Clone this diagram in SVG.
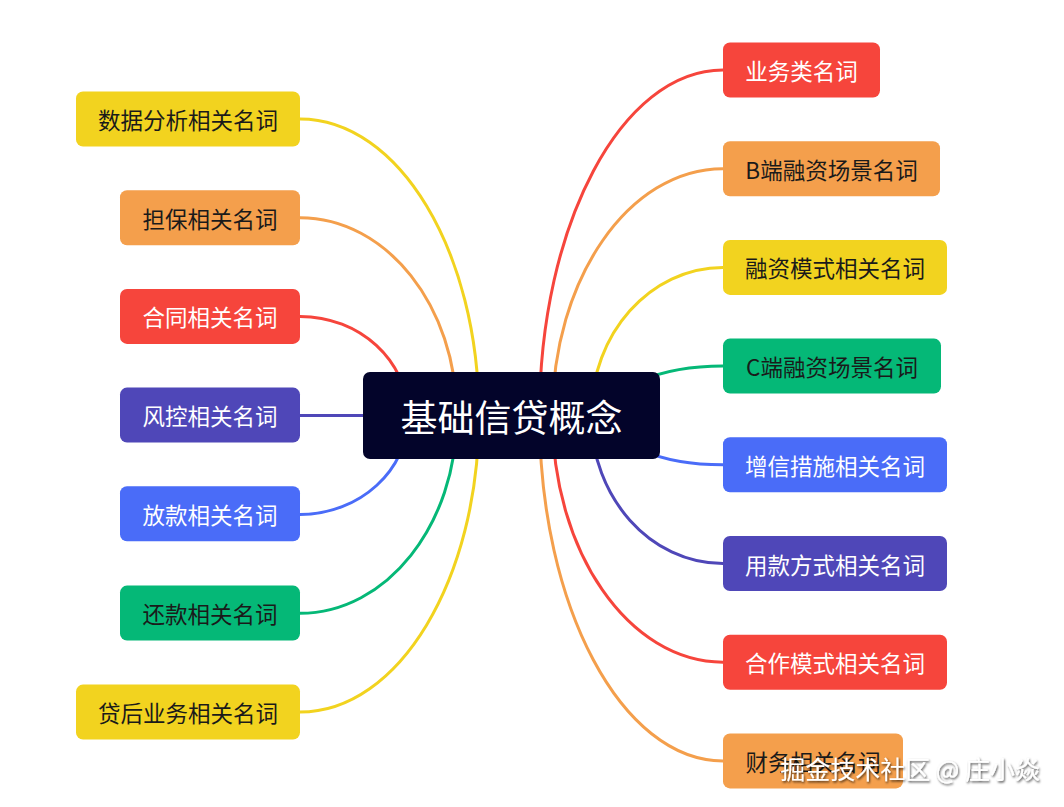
<svg xmlns="http://www.w3.org/2000/svg" width="1064" height="807" viewBox="0 0 1064 807">
<defs>
<style>
.n rect{rx:7;ry:7}
.t{font-family:"Noto Sans CJK SC","Noto Sans",sans-serif;font-size:22.5px;text-anchor:middle;dominant-baseline:central}
.dk{fill:#1a1a1a}
.wt{fill:#ffffff}
.c path{fill:none;stroke-width:3;stroke-linecap:round}
.red{fill:#f6453c}
.org{fill:#f49f4c}
.yel{fill:#f2d31f}
.grn{fill:#05b877}
.blu{fill:#4a6cf8}
.pur{fill:#4f47b8}
</style>
<filter id="sh" x="-10%" y="-30%" width="120%" height="160%">
<feDropShadow dx="1" dy="1.5" stdDeviation="1" flood-color="#000" flood-opacity="0.7"/>
</filter>
</defs>
<rect width="1064" height="807" fill="#ffffff"/>
<g id="connectors" class="c">
<path d="M539.5,415.5 C539.5,224.7 621.7,70 723,70" stroke="#f6453c"/>
<path d="M552.4,415.5 C552.4,279.2 628.8,168.7 723,168.7" stroke="#f49f4c"/>
<path d="M591.2,415.5 C591.2,333.7 650.2,267.4 723,267.4" stroke="#f2d31f"/>
<path d="M608,415.5 C608,388.2 659.5,366.1 723,366.1" stroke="#05b877"/>
<path d="M608,415.5 C608,442.7 659.5,464.8 723,464.8" stroke="#4a6cf8"/>
<path d="M591.2,415.5 C591.2,497.2 650.2,563.5 723,563.5" stroke="#4f47b8"/>
<path d="M552.4,415.5 C552.4,551.8 628.8,662.2 723,662.2" stroke="#f6453c"/>
<path d="M539.5,415.5 C539.5,606.3 621.7,760.9 723,760.9" stroke="#f49f4c"/>
<path d="M478.9,415.5 C478.9,251.7 398.8,119 300,119" stroke="#f2d31f"/>
<path d="M456.8,415.5 C456.8,306.3 386.6,217.7 300,217.7" stroke="#f49f4c"/>
<path d="M408,415.5 C408,360.8 359.6,316.4 300,316.4" stroke="#f6453c"/>
<path d="M400,415.5 L300,415.5" stroke="#4f47b8"/>
<path d="M408.3,415.5 C408.3,470.2 359.8,514.5 300,514.5" stroke="#4a6cf8"/>
<path d="M456.8,415.5 C456.8,524.7 386.6,613.3 300,613.3" stroke="#05b877"/>
<path d="M478.9,415.5 C478.9,579.3 398.8,712 300,712" stroke="#f2d31f"/>
</g>
<g id="root" class="n">
<rect x="363" y="372" width="297" height="87" rx="8" ry="8" fill="#03042a"/>
<text class="t wt" x="511.5" y="415.5" style="font-size:37px">基础信贷概念</text>
</g>
<g id="r1" class="n"><rect class="red" x="723" y="42.5" width="157" height="55"/><text class="t wt" x="801.5" y="70">业务类名词</text></g>
<g id="r2" class="n"><rect class="org" x="723" y="141.2" width="217" height="55"/><text class="t dk" x="831.5" y="168.7">B端融资场景名词</text></g>
<g id="r3" class="n"><rect class="yel" x="723" y="239.9" width="224" height="55"/><text class="t dk" x="835" y="267.4">融资模式相关名词</text></g>
<g id="r4" class="n"><rect class="grn" x="723" y="338.6" width="218" height="55"/><text class="t dk" x="832" y="366.1">C端融资场景名词</text></g>
<g id="r5" class="n"><rect class="blu" x="723" y="437.3" width="224" height="55"/><text class="t wt" x="835" y="464.8">增信措施相关名词</text></g>
<g id="r6" class="n"><rect class="pur" x="723" y="536" width="224" height="55"/><text class="t wt" x="835" y="563.5">用款方式相关名词</text></g>
<g id="r7" class="n"><rect class="red" x="723" y="634.7" width="224" height="55"/><text class="t wt" x="835" y="662.2">合作模式相关名词</text></g>
<g id="r8" class="n"><rect class="org" x="723" y="733.4" width="180" height="55"/><text class="t dk" x="813" y="760.9">财务相关名词</text></g>
<g id="l1" class="n"><rect class="yel" x="76" y="91.5" width="224" height="55"/><text class="t dk" x="188" y="119">数据分析相关名词</text></g>
<g id="l2" class="n"><rect class="org" x="120" y="190.2" width="180" height="55"/><text class="t dk" x="210" y="217.7">担保相关名词</text></g>
<g id="l3" class="n"><rect class="red" x="120" y="288.9" width="180" height="55"/><text class="t wt" x="210" y="316.4">合同相关名词</text></g>
<g id="l4" class="n"><rect class="pur" x="120" y="387.6" width="180" height="55"/><text class="t wt" x="210" y="415.1">风控相关名词</text></g>
<g id="l5" class="n"><rect class="blu" x="120" y="486.3" width="180" height="55"/><text class="t wt" x="210" y="513.8">放款相关名词</text></g>
<g id="l6" class="n"><rect class="grn" x="120" y="585.6" width="180" height="55"/><text class="t dk" x="210" y="613.1">还款相关名词</text></g>
<g id="l7" class="n"><rect class="yel" x="76" y="684.6" width="224" height="55"/><text class="t dk" x="188" y="712.1">贷后业务相关名词</text></g>
<text x="1040" y="779" filter="url(#sh)" style="font-family:'Noto Sans CJK SC','Noto Sans',sans-serif;font-size:25px;fill:#ffffff;text-anchor:end">掘金技术社区 @ 庄小焱</text>
</svg>
